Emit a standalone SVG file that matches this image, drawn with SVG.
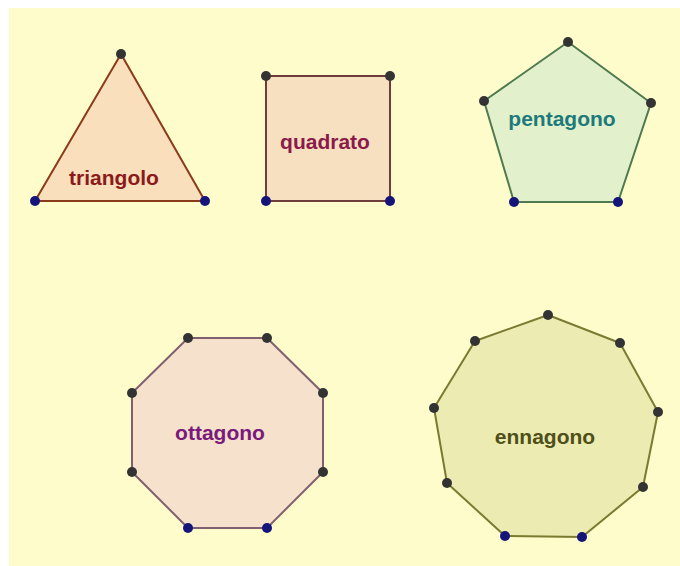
<svg xmlns="http://www.w3.org/2000/svg" width="680" height="566" viewBox="0 0 680 566">
<style>
.lbl{font-family:"Liberation Sans",Arial,sans-serif;font-weight:bold;font-size:21px;text-anchor:middle}
.poly{stroke-width:2;stroke-linejoin:round}
.pt{fill:#333333}
.pb{fill:#14147a}
</style>
<rect x="0" y="0" width="680" height="566" fill="#ffffff"/>
<rect x="9" y="8" width="671" height="558" fill="#fffccc"/>
<g id="connectors"></g>
<g id="triangolo">
<polygon class="poly" points="121,54 205,201 35,201" fill="#fadfbc" stroke="#8b3a1a"/>
<text class="lbl" x="114" y="185" fill="#8b1a1a">triangolo</text>
<circle class="pt" cx="121" cy="54" r="5"/>
<circle class="pb" cx="35" cy="201" r="5"/>
<circle class="pb" cx="205" cy="201" r="5"/>
</g>
<g id="quadrato">
<polygon class="poly" points="266,76 390,76 390,201 266,201" fill="#f7e0c0" stroke="#6e3c3c"/>
<text class="lbl" x="325" y="149" fill="#8b1a4a">quadrato</text>
<circle class="pt" cx="266" cy="76" r="5"/>
<circle class="pt" cx="390" cy="76" r="5"/>
<circle class="pb" cx="266" cy="201" r="5"/>
<circle class="pb" cx="390" cy="201" r="5"/>
</g>
<g id="pentagono">
<polygon class="poly" points="568,42 651,103 618,202 514,202 484,101" fill="#e2f0cc" stroke="#4f7a4f"/>
<text class="lbl" x="562" y="126" fill="#1e7a7a">pentagono</text>
<circle class="pt" cx="568" cy="42" r="5"/>
<circle class="pt" cx="651" cy="103" r="5"/>
<circle class="pt" cx="484" cy="101" r="5"/>
<circle class="pb" cx="618" cy="202" r="5"/>
<circle class="pb" cx="514" cy="202" r="5"/>
</g>
<g id="ottagono">
<polygon class="poly" points="188,338 267,338 323,393 323,472 267,528 188,528 132,472 132,393" fill="#f5e1cc" stroke="#806070"/>
<text class="lbl" x="220" y="440" fill="#7a1a7a">ottagono</text>
<circle class="pt" cx="188" cy="338" r="5"/>
<circle class="pt" cx="267" cy="338" r="5"/>
<circle class="pt" cx="323" cy="393" r="5"/>
<circle class="pt" cx="323" cy="472" r="5"/>
<circle class="pb" cx="267" cy="528" r="5"/>
<circle class="pb" cx="188" cy="528" r="5"/>
<circle class="pt" cx="132" cy="472" r="5"/>
<circle class="pt" cx="132" cy="393" r="5"/>
</g>
<g id="ennagono">
<polygon class="poly" points="548,315 620,343 658,412 643,487 582,537 505,536 447,483 434,408 475,341" fill="#ecebb2" stroke="#7a7a30"/>
<text class="lbl" x="545" y="444" fill="#4f4f1a">ennagono</text>
<circle class="pt" cx="548" cy="315" r="5"/>
<circle class="pt" cx="620" cy="343" r="5"/>
<circle class="pt" cx="658" cy="412" r="5"/>
<circle class="pt" cx="643" cy="487" r="5"/>
<circle class="pb" cx="582" cy="537" r="5"/>
<circle class="pb" cx="505" cy="536" r="5"/>
<circle class="pt" cx="447" cy="483" r="5"/>
<circle class="pt" cx="434" cy="408" r="5"/>
<circle class="pt" cx="475" cy="341" r="5"/>
</g>
</svg>
